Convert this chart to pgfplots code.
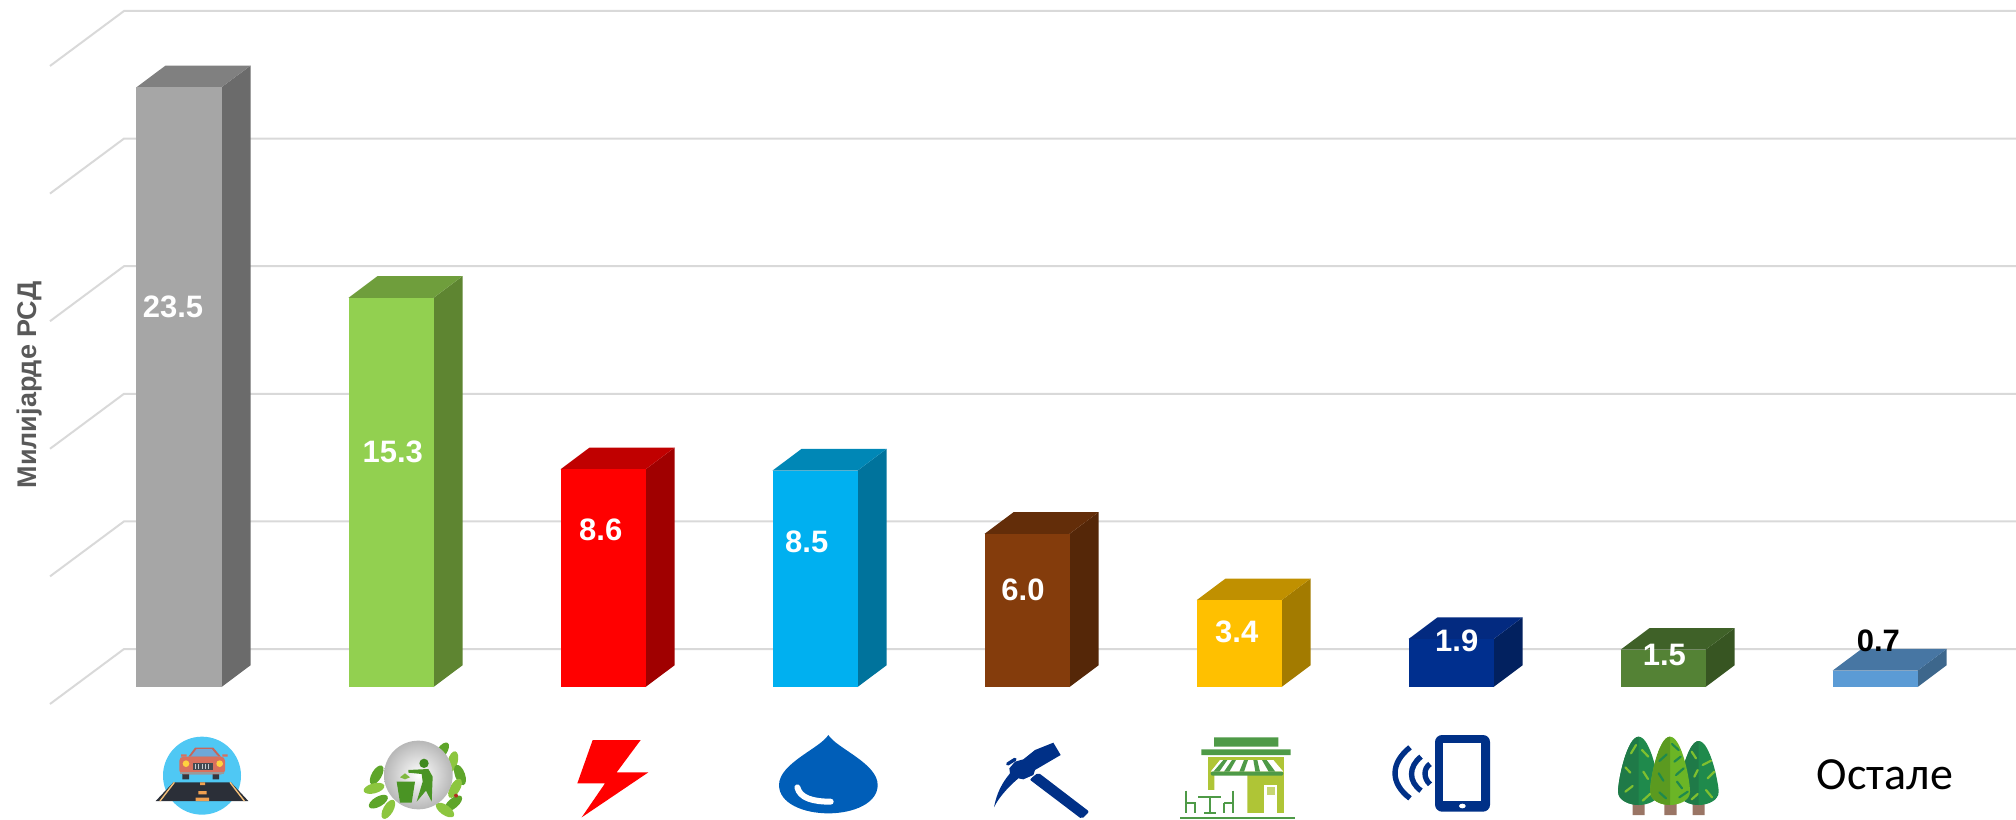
\documentclass[border=0pt]{standalone}
\usepackage{pgfplots}
\pgfplotsset{compat=1.18}
\usepackage{fontspec}
\setmainfont{Liberation Sans}
\newfontfamily\carlito{Carlito}
\definecolor{gridc}{HTML}{D9D9D9}
\definecolor{af}{HTML}{A6A6A6}\definecolor{at}{HTML}{808080}\definecolor{as}{HTML}{6B6B6B}
\definecolor{bf}{HTML}{92D050}\definecolor{bt}{HTML}{6F9E3C}\definecolor{bs}{HTML}{5E8531}
\definecolor{cf}{HTML}{FF0000}\definecolor{ct}{HTML}{C00000}\definecolor{cs}{HTML}{A00000}
\definecolor{df}{HTML}{00B0F0}\definecolor{dt}{HTML}{0087B6}\definecolor{ds}{HTML}{00739C}
\definecolor{ef}{HTML}{843C0C}\definecolor{et}{HTML}{632D09}\definecolor{es}{HTML}{552708}
\definecolor{ff}{HTML}{FFC000}\definecolor{ft}{HTML}{C09000}\definecolor{fs}{HTML}{A37B00}
\definecolor{gf}{HTML}{002F8E}\definecolor{gt}{HTML}{032A80}\definecolor{gs}{HTML}{02215F}
\definecolor{hf}{HTML}{548235}\definecolor{ht}{HTML}{3F6128}\definecolor{hs}{HTML}{375522}
\definecolor{if}{HTML}{5B9BD5}\definecolor{it}{HTML}{4776A3}\definecolor{is}{HTML}{3D678C}
\definecolor{navy}{HTML}{003087}
\definecolor{shopg}{HTML}{4E9A47}
\definecolor{shopl}{HTML}{AFC536}
\definecolor{treed}{HTML}{1F8A4C}
\definecolor{treedd}{HTML}{1F7A48}
\definecolor{treel}{HTML}{6BB526}
\definecolor{treeld}{HTML}{7FC02F}
\definecolor{trunk}{HTML}{9A7565}
\definecolor{leafa}{HTML}{8CC63F}
\definecolor{leafb}{HTML}{5EA52A}
\definecolor{ylab}{HTML}{595959}
\tikzset{HTML/.code={\definecolor{tmpc}{HTML}{#1}\pgfkeysalso{color=tmpc}}}
\newcommand{\tdbar}[5]{%
  \pgfmathsetmacro\bxl{#1-0.2005}%
  \pgfmathsetmacro\bxr{#1+0.2005}%
  \pgfmathsetmacro\bxbl{#1-0.2005+0.1368}%
  \pgfmathsetmacro\bxbr{#1+0.2005+0.1368}%
  \pgfmathsetmacro\byt{#2+0.85}%
  \edef\tmpa{\noexpand\addplot[fill=#5,draw=none] coordinates {(\bxr,0) (\bxbr,0.85) (\bxbr,\byt) (\bxr,#2)} -- cycle;}\tmpa
  \edef\tmpb{\noexpand\addplot[fill=#4,draw=none] coordinates {(\bxl,#2) (\bxbl,\byt) (\bxbr,\byt) (\bxr,#2)} -- cycle;}\tmpb
  \addplot[ybar,bar width=42.5pt,bar shift=0pt,fill=#3,draw=none] coordinates {(#1,#2)};
}
\tikzset{crop/.style 2 args={shift={(#1*0.5pt,409.5pt-#2*0.5pt)},x=0.166667pt,y=-0.166667pt}}
\newcommand{\tree}[6]{% cx top bot hw colour leftcolour
  \fill[#5] (#1,#2) .. controls (#1+35,#2) and (#1+#4,#2+130) .. (#1+#4,#3-40) .. controls (#1+#4,#3-12) and (#1+25,#3) .. (#1,#3) .. controls (#1-25,#3) and (#1-#4,#3-12) .. (#1-#4,#3-40) .. controls (#1-#4,#2+130) and (#1-35,#2) .. (#1,#2);
  \fill[#6] (#1,#2) .. controls (#1-35,#2) and (#1-#4,#2+130) .. (#1-#4,#3-40) .. controls (#1-#4,#3-12) and (#1-25,#3) .. (#1,#3) -- cycle;
}
\begin{document}
\begin{tikzpicture}
\path[use as bounding box] (0,0) rectangle (1008pt,409.5pt);
\begin{axis}[
  at={(0,0)},anchor=south west,
  scale only axis,width=1008pt,height=409.5pt,
  hide axis,
  xmin=-0.8443,xmax=8.6651,ymin=-5.1724,ymax=26.9201,
]
% gridlines in perspective: value 0,5,...,25
\addplot[gridc,line width=1pt] coordinates {(-0.6085,-0.666) (-0.2594,1.489) (8.6651,1.489)};
\addplot[gridc,line width=1pt] coordinates {(-0.6085,4.334) (-0.2594,6.489) (8.6651,6.489)};
\addplot[gridc,line width=1pt] coordinates {(-0.6085,9.334) (-0.2594,11.489) (8.6651,11.489)};
\addplot[gridc,line width=1pt] coordinates {(-0.6085,14.334) (-0.2594,16.489) (8.6651,16.489)};
\addplot[gridc,line width=1pt] coordinates {(-0.6085,19.334) (-0.2594,21.489) (8.6651,21.489)};
\addplot[gridc,line width=1pt] coordinates {(-0.6085,24.334) (-0.2594,26.489) (8.6651,26.489)};
\tdbar{0}{23.5}{af}{at}{as}
\tdbar{1}{15.25}{bf}{bt}{bs}
\tdbar{2}{8.53}{cf}{ct}{cs}
\tdbar{3}{8.48}{df}{dt}{ds}
\tdbar{4}{6.0}{ef}{et}{es}
\tdbar{5}{3.4}{ff}{ft}{fs}
\tdbar{6}{1.88}{gf}{gt}{gs}
\tdbar{7}{1.46}{hf}{ht}{hs}
\tdbar{8}{0.64}{if}{it}{is}
\end{axis}
% text, in reference pixels
\begin{scope}[shift={(0,409.5pt)},x=0.5pt,y=-0.5pt]
\foreach \px/\py/\t in {173/307/23.5,392.7/452/15.3,600.7/530/8.6,806.7/542/8.5,1023/590/6.0,1236.7/631.7/3.4,1456.7/640.7/1.9,1664.3/654.7/1.5}
  \node[white,font=\fontsize{15.5pt}{18pt}\selectfont\bfseries,inner sep=0pt] at (\px,\py) {\t};
\node[black,font=\fontsize{15.5pt}{18pt}\selectfont\bfseries,inner sep=0pt] at (1878.3,641) {0.7};
\node[ylab,rotate=90,font=\fontsize{13.5pt}{16pt}\selectfont\bfseries,inner sep=0pt] at (30,385) {Милијарде РСД};
\node[black,font=\fontsize{23pt}{26pt}\selectfont\carlito,inner sep=0pt] at (1885,775) {Остале};
\end{scope}
% icon: car and road
\begin{scope}[crop={145}{725}]
\fill[HTML=4FC8F4] (171,152) circle [radius=117];
\fill[HTML=2B2F38] (85,172) -- (258,172) -- (310,228) -- (32,228) -- cycle;
\draw[HTML=F5C07A,line width=0.7pt] (88,172) -- (45,228) (255,172) -- (298,228);
\fill[HTML=F0A050] (165,172) rectangle (180,180) (160,198) rectangle (185,208) (152,218) rectangle (192,228);
\fill[HTML=333840] (112,145) rectangle (132,163) (203,145) rectangle (222,163);
\fill[HTML=C8655A] (130,95) -- (150,68) -- (205,68) -- (228,95) -- cycle;
\fill[HTML=6FA8D8] (137,95) -- (155,72) -- (200,72) -- (220,95) -- cycle;
\fill[HTML=D9705E] (108,88) rectangle (125,95) (232,88) rectangle (248,95);
\fill[HTML=D9705E,rounded corners=2pt] (103,95) rectangle (240,148);
\fill[HTML=9A9A9A] (105,140) rectangle (238,147);
\fill[HTML=FFD23F] (123,116) circle [radius=10] (224,116) circle [radius=10];
\fill[HTML=444A52] (143,115) rectangle (203,135);
\foreach \k in {150,160,170,180,190}{\fill[HTML=C8CCD0] (\k,118) rectangle (\k+3,132);}
\end{scope}
% icon: recycling bin with leaves
\begin{scope}[crop={350}{720}]
\foreach \lx/\ly/\la/\lc in {275/95/55/leafb,308/125/75/leafa,330/165/-70/leafb,315/205/60/leafa,310/250/40/leafb,285/270/-35/leafa,80/165/60/leafb,72/205/15/leafa,85/245/30/leafb,115/268/60/leafa}
  \fill[\lc,rotate around={\la:(\lx,\ly)}] (\lx,\ly) ellipse [x radius=32,y radius=15];
\shade[inner color=white,outer color=black!28] (205,165) circle [radius=103];
\fill[HTML=3F8A1F] (222,130) circle [radius=14];
\fill[HTML=4A9424] (175,150) -- (235,147) -- (248,170) -- (245,245) -- (228,212) -- (200,245) -- (218,185) -- (215,162) -- (175,158) -- cycle;
\fill[HTML=4A9424] (140,185) -- (195,185) -- (185,248) -- (150,248) -- cycle;
\fill[HTML=7FB83F] (150,172) -- (165,160) -- (180,172) -- (165,178) -- cycle;
\fill[HTML=B03020] (318,227) circle [radius=6];
\end{scope}
% icon: lightning and water drop
\begin{scope}[crop={520}{420}]
\fill[HTML=FF0000] (218,960) -- (362,960) -- (290,1057) -- (385,1057) -- (185,1192) -- (255,1090) -- (172,1090) -- cycle;
\fill[HTML=005EB8] (925,945) .. controls (900,985) and (777,1030) .. (777,1095) .. controls (777,1150) and (850,1180) .. (925,1180) .. controls (1000,1180) and (1073,1150) .. (1073,1095) .. controls (1073,1030) and (950,985) .. (925,945);
\draw[white,line width=3pt,line cap=round] (832,1102) .. controls (840,1135) and (880,1145) .. (932,1145);
\end{scope}
% icon: pickaxe
\begin{scope}[crop={970}{720}]
\fill[navy,rounded corners=1pt] (205,158) -- (358,275) -- (335,297) -- (178,178) -- cycle;
\draw[white,line width=1pt] (163,180) -- (178,176) -- (197,156);
\fill[navy] (250,68) -- (272,105) -- (195,150) -- (190,165) -- (160,178) -- (145,175) .. controls (110,205) and (85,235) .. (72,262) .. controls (80,220) and (95,190) .. (120,160) -- (118,145) -- (135,125) -- (160,118) -- (195,90) -- cycle;
\draw[navy,line width=1.7pt,line cap=round] (113,132) -- (135,118);
\end{scope}
% icon: shop
\begin{scope}[crop={1170}{725}]
\fill[shopg] (132,37) rectangle (325,65) (94,73) rectangle (362,90);
\fill[shopl] (113,97) rectangle (343,265);
\fill[white] (133,150) rectangle (232,270) (100,195) rectangle (135,270);
\fill[white] (150,105) -- (310,105) -- (340,140) -- (122,140) -- cycle;
\foreach \a/\b/\c/\d in {160/172/130/148,186/198/162/178,222/234/208/222,250/262/256/270,276/290/296/316}
  \fill[shopg] (\a,105) -- (\b,105) -- (\d,140) -- (\c,140) -- cycle;
\fill[shopg,rounded corners=1pt] (122,140) rectangle (340,152);
\fill[white] (283,180) rectangle (322,265);
\fill[shopl!70] (292,186) rectangle (316,210);
\draw[shopg,line width=0.9pt] (48,197) -- (48,265) (48,235) -- (75,235) -- (75,265) (85,215) -- (153,215) (120,215) -- (120,262) (102,264) -- (138,264) (189,197) -- (189,265) (162,235) -- (189,235) (162,235) -- (162,265);
\fill[shopg] (30,276) rectangle (375,281);
\end{scope}
% icon: phone
\begin{scope}[crop={1040}{540}]
\fill[navy,rounded corners=3.5pt] (1185,585) rectangle (1350,815);
\fill[white] (1210,608) rectangle (1324,782);
\fill[white] (1267,798) ellipse [x radius=10,y radius=7];
\draw[navy,line width=2.7pt] (1170,672) .. controls (1150,685) and (1150,715) .. (1170,733);
\draw[navy,line width=2.7pt] (1143,650) .. controls (1105,680) and (1105,725) .. (1143,752);
\draw[navy,line width=2.7pt] (1110,622) .. controls (1050,670) and (1050,730) .. (1110,775);
\end{scope}
% icon: trees
\begin{scope}[crop={1516}{540}]
\fill[trunk] (350,790) rectangle (386,825) (445,790) rectangle (482,825) (530,790) rectangle (566,825);
\tree{368}{590}{795}{62}{treed}{treedd}
\tree{548}{603}{795}{60}{treed}{treedd}
\tree{462}{590}{795}{60}{treel}{treel!85!black}
\draw[treeld,line width=1.1pt,line cap=round] (345,640) -- (360,615) (378,630) -- (397,650) (328,682) -- (343,698) (382,695) -- (396,717) (328,755) -- (350,738) (380,782) -- (402,762) (527,635) -- (540,655) (560,675) -- (585,662) (535,710) -- (545,690) (575,715) -- (595,695) (527,778) -- (545,762) (570,750) -- (588,772);
\draw[treed,line width=1.1pt,line cap=round] (468,612) -- (488,630) (430,663) -- (452,643) (475,665) -- (494,650) (480,705) -- (503,685) (428,700) -- (442,722) (483,725) -- (498,745) (430,757) -- (450,775) (490,772) -- (515,755);
\end{scope}
\end{tikzpicture}
\end{document}
